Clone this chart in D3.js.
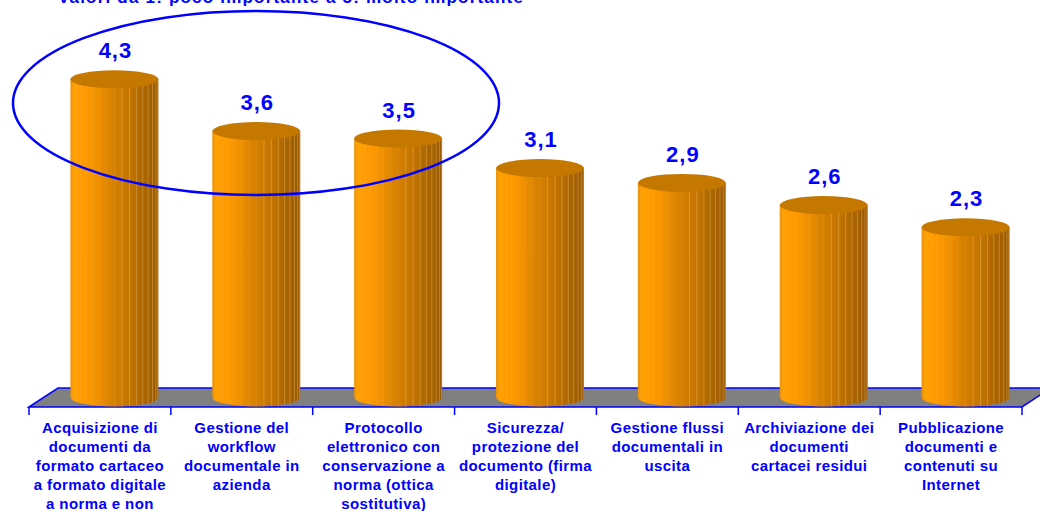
<!doctype html>
<html lang="it">
<head>
<meta charset="utf-8">
<title>Valori da 1 a 5</title>
<script src="https://d3js.org/d3.v7.min.js"></script>
<style>
  body { margin: 0; background: #fff; }
  svg { display: block; font-family: "Liberation Sans", Arial, sans-serif; }
</style>
</head>
<body>
<svg width="1040" height="511"></svg>
<script>
// data
var categories = [
  "Acquisizione di\ndocumenti da\nformato cartaceo\na formato digitale\na norma e non",
  "Gestione del\nworkflow\ndocumentale in\nazienda",
  "Protocollo\nelettronico con\nconservazione a\nnorma (ottica\nsostitutiva)",
  "Sicurezza/\nprotezione del\ndocumento (firma\ndigitale)",
  "Gestione flussi\ndocumentali in\nuscita",
  "Archiviazione dei\ndocumenti\ncartacei residui",
  "Pubblicazione\ndocumenti e\ncontenuti su\nInternet"
];
var values = [4.3, 3.6, 3.5, 3.1, 2.9, 2.6, 2.3];
var valueLabels = ["4,3", "3,6", "3,5", "3,1", "2,9", "2,6", "2,3"];
var title = "Valori da 1: poco importante a 5: molto importante";

var svg = d3.select("svg");
var blue = "#0000ff";

// 3d floor geometry
var front = 407, depthX = 29, depthY = 19;
var x = d3.scaleBand().domain(categories).range([29, 1022]).paddingInner(0).paddingOuter(0);
var y = d3.scaleLinear().domain([0, 5]).range([front - depthY / 2, front - depthY / 2 - 370]);

// gradient for the cylinder body
var defs = svg.append("defs");
var grad = defs.append("linearGradient").attr("id", "cyl").attr("x1", 0).attr("x2", 1).attr("y1", 0).attr("y2", 0);
[[0, "#e88c00"], [0.04, "#ffa000"], [0.18, "#ff9a00"], [0.3, "#f29200"], [0.41, "#e08600"],
 [0.52, "#d27e00"], [0.7, "#c07200"], [0.8, "#b06800"], [1, "#985800"]].forEach(function(s) {
  grad.append("stop").attr("offset", s[0]).attr("stop-color", s[1]);
});

// title (cut by the top edge, like the original)
svg.append("text")
  .attr("x", 291).attr("y", 3)
  .attr("text-anchor", "middle")
  .style("font-size", "17px").style("font-weight", "bold").style("letter-spacing", "1.2px")
  .attr("fill", blue)
  .text(title);

// floor
var x0 = x.range()[0], x1 = x.range()[1];
svg.append("path")
  .attr("d", "M" + x0 + "," + front + "L" + (x0 + depthX) + "," + (front - depthY) +
             "L" + (x1 + depthX) + "," + (front - depthY) + "L" + x1 + "," + front + "Z")
  .attr("fill", "#808080")
  .attr("stroke", blue).attr("stroke-width", 1.5);

// ticks
var bounds = categories.map(function(c) { return x(c); }).concat([x1]);
svg.append("g").selectAll("line").data(bounds).enter().append("line")
  .attr("x1", function(d) { return d; }).attr("x2", function(d) { return d; })
  .attr("y1", front).attr("y2", front + 8)
  .attr("stroke", blue).attr("stroke-width", 1.5);

// cylinders
var rx = x.bandwidth() * 0.31, ry = 9;
var facets = d3.range(1, 18).map(function(k) { return Math.cos(Math.PI * k / 18); });

var bars = svg.append("g").selectAll("g").data(values).enter().append("g");

bars.each(function(v, i) {
  var g = d3.select(this);
  var cx = x(categories[i]) + x.bandwidth() / 2 + depthX / 2;
  var top = y(v), bot = y(0);
  g.append("path")
    .attr("d", "M" + (cx - rx) + "," + top + "L" + (cx - rx) + "," + bot +
               "A" + rx + "," + ry + " 0 0 0 " + (cx + rx) + "," + bot +
               "L" + (cx + rx) + "," + top + "Z")
    .attr("fill", "url(#cyl)");
  g.selectAll("line").data(facets).enter().append("line")
    .attr("x1", function(c) { return cx - rx * c; })
    .attr("x2", function(c) { return cx - rx * c; })
    .attr("y1", top)
    .attr("y2", function(c) { return bot + ry * Math.sqrt(1 - c * c); })
    .attr("stroke", "#ffd890")
    .attr("stroke-opacity", function(c) { return c < 0 ? 0.4 : 0.15; })
    .attr("stroke-width", 0.8);
  g.append("ellipse")
    .attr("cx", cx).attr("cy", top).attr("rx", rx).attr("ry", ry)
    .attr("fill", "#c47800");
  g.append("text")
    .attr("x", cx + 1).attr("y", top - 21)
    .attr("text-anchor", "middle")
    .style("font-size", "22px").style("font-weight", "bold").style("letter-spacing", "1px")
    .attr("fill", blue)
    .text(valueLabels[i]);
});

// category labels
var labels = svg.append("g").selectAll("text").data(categories).enter().append("text")
  .attr("text-anchor", "middle")
  .attr("fill", blue)
  .style("font-size", "15px").style("font-weight", "bold").style("letter-spacing", "0.4px");
labels.each(function(c) {
  var t = d3.select(this);
  c.split("\n").forEach(function(line, j) {
    t.append("tspan")
      .attr("x", x(c) + x.bandwidth() / 2)
      .attr("y", 433 + j * 19)
      .text(line);
  });
});

// highlight ellipse
svg.append("ellipse")
  .attr("cx", 256).attr("cy", 103).attr("rx", 243).attr("ry", 92)
  .attr("fill", "none")
  .attr("stroke", blue).attr("stroke-width", 2.5);
</script>
</body>
</html>
